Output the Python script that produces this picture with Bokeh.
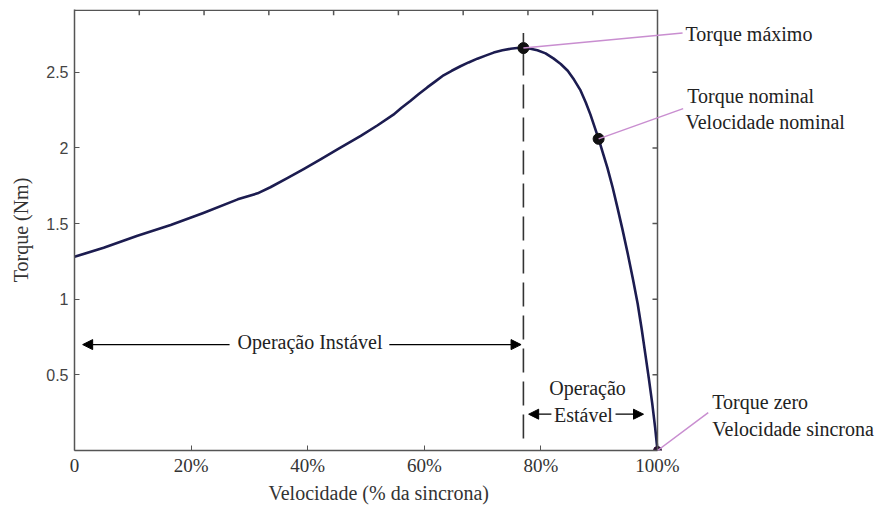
from bokeh.plotting import figure
from bokeh.models import Range1d, FixedTicker, Label, Arrow, NormalHead, Span, Title
from bokeh.embed import file_html
from bokeh.resources import INLINE

# ---- data ----
speed_pct = [0, 5.0, 10.8, 16.5, 22.1, 28.0, 31.4, 33.6, 36.5, 39.3, 42.2, 45.1,
             49.1, 52.0, 54.7, 56.1, 57.6, 59.0, 60.5, 61.9, 63.3, 64.7, 66.2,
             67.6, 69.1, 70.5, 71.9, 73.4, 74.8, 75.9, 77.0, 78.2, 79.4, 80.8,
             82.2, 83.4, 84.6, 85.7, 86.8, 87.7, 88.5, 89.9, 90.6, 91.4, 92.3,
             93.1, 94.0, 94.9, 95.8, 96.6, 97.3, 97.9, 98.5, 99.1, 99.6, 100.0]
torque = [1.28, 1.34, 1.42, 1.49, 1.57, 1.66, 1.70, 1.74, 1.80, 1.86, 1.925, 1.99,
          2.08, 2.15, 2.22, 2.265, 2.31, 2.355, 2.40, 2.44, 2.48, 2.51, 2.54,
          2.565, 2.59, 2.61, 2.63, 2.645, 2.655, 2.66, 2.66, 2.655, 2.645, 2.625,
          2.59, 2.555, 2.51, 2.45, 2.38, 2.30, 2.22, 2.06, 1.97, 1.87, 1.74,
          1.61, 1.46, 1.30, 1.13, 0.97, 0.80, 0.64, 0.48, 0.31, 0.15, 0.0]

max_speed, max_torque = 77.0, 2.66
nom_speed, nom_torque = 89.9, 2.06
zero_speed, zero_torque = 100.0, 0.0

x_ticks = [0, 20, 40, 60, 80, 100]
x_tick_labels = ["0", "20%", "40%", "60%", "80%", "100%"]
y_ticks = [0.5, 1, 1.5, 2, 2.5]
y_tick_labels = ["0.5", "1", "1.5", "2", "2.5"]
top_ticks = [100 * i / 9 for i in range(1, 9)]

SERIF = "Liberation Serif"
SANS = "Liberation Sans"
TXT = "#222222"
AX = "#555555"
PINK = "#c98ed0"
CURVE = "#1c1c50"

X_MAX = 100.0
Y_MAX = 2.91
PX_PER_UNIT_X = 583 / X_MAX           # width of the boxed area is 583 px
PX_PER_UNIT_Y = 441 / Y_MAX           # height of the boxed area is 441 px
X_END = X_MAX + 220 / PX_PER_UNIT_X   # room on the right for the annotations

p = figure(width=877, height=510, x_range=Range1d(0, X_END),
           y_range=Range1d(0, Y_MAX + 0.75 / PX_PER_UNIT_Y),
           output_backend="svg", toolbar_location=None,
           min_border_left=74, min_border_right=0, min_border_top=9, min_border_bottom=60,
           background_fill_color="white", border_fill_color="white")
p.outline_line_color = None
p.grid.visible = False

xa = p.xaxis[0]
xa.bounds = (0, X_MAX)
xa.ticker = FixedTicker(ticks=x_ticks)
xa.major_label_overrides = {t: l for t, l in zip(x_ticks, x_tick_labels)}
xa.major_tick_in = 5
xa.major_tick_out = 0
xa.minor_tick_in = 0
xa.minor_tick_out = 0
xa.axis_line_color = AX
xa.axis_line_width = 1.5
xa.major_tick_line_color = AX
xa.major_label_standoff = 4
xa.major_label_text_font = SERIF
xa.major_label_text_font_size = "19px"
xa.major_label_text_color = "#333333"

# x axis title, centred under the boxed area (not under the whole frame)
p.add_layout(Title(text="Velocidade (% da sincrona)", align="left", offset=194,
                   text_font=SERIF, text_font_size="20px", text_font_style="normal",
                   text_color="#333333", standoff=2), "below")

ya = p.yaxis[0]
ya.ticker = FixedTicker(ticks=y_ticks)
ya.major_label_overrides = {t: l for t, l in zip(y_ticks, y_tick_labels)}
ya.major_tick_in = 5
ya.major_tick_out = 0
ya.minor_tick_in = 0
ya.minor_tick_out = 0
ya.axis_line_color = AX
ya.axis_line_width = 1.5
ya.major_tick_line_color = AX
ya.major_label_standoff = 6
ya.major_label_text_font = SANS
ya.major_label_text_font_size = "16px"
ya.major_label_text_color = "#444444"
ya.axis_label = "Torque (Nm)"
ya.axis_label_text_font = SERIF
ya.axis_label_text_font_size = "20px"
ya.axis_label_text_font_style = "normal"
ya.axis_label_text_color = "#333333"
ya.axis_label_standoff = 11

# top border of the box, with inward ticks
p.segment(x0=[0], y0=[Y_MAX], x1=[X_MAX], y1=[Y_MAX], line_color=AX, line_width=1.5)
tick_len_y = 5 / PX_PER_UNIT_Y
p.segment(x0=top_ticks, y0=[Y_MAX] * len(top_ticks),
          x1=top_ticks, y1=[Y_MAX - tick_len_y] * len(top_ticks),
          line_color=AX, line_width=1.5)

# right border of the box, with inward ticks
p.add_layout(Span(location=X_MAX, dimension="height", line_color=AX, line_width=1.5))
tick_len_x = 5 / PX_PER_UNIT_X
p.segment(x0=[X_MAX] * len(y_ticks), y0=y_ticks,
          x1=[X_MAX - tick_len_x] * len(y_ticks), y1=y_ticks,
          line_color=AX, line_width=1.5)

# dashed line at maximum torque speed
p.line([max_speed, max_speed], [0.08, 2.76], line_color="#333333", line_width=1.6,
       line_dash="24 9")

# torque-speed curve
p.line(speed_pct, torque, line_color=CURVE, line_width=2.6, line_join="round")

# key points
p.scatter([max_speed, nom_speed], [max_torque, nom_torque], size=11,
          fill_color="#111111", line_color="#111111")
p.scatter([zero_speed], [zero_torque], size=8, fill_color="#2a1030", line_color="#2a1030")

# leader lines
for xs, ys, xe, ye in [(max_speed, max_torque, 104.3, 2.76),
                       (nom_speed, nom_torque, 104.4, 2.26),
                       (zero_speed, zero_torque, 108.7, 0.25)]:
    p.add_layout(Arrow(end=None, x_start=xs, y_start=ys, x_end=xe, y_end=ye,
                       line_color=PINK, line_width=1.5))

def lbl(x, y, text, align="left"):
    p.add_layout(Label(x=x, y=y, text=text, text_align=align, text_baseline="middle",
                       text_font=SERIF, text_font_size="20px", text_color=TXT))

lbl(104.8, 2.75, "Torque máximo")
lbl(105.1, 2.34, "Torque nominal")
lbl(104.8, 2.17, "Velocidade nominal")
lbl(109.4, 0.32, "Torque zero")
lbl(109.4, 0.145, "Velocidade sincrona")

# operating regions
def arrow(xs, xe, y):
    p.add_layout(Arrow(end=NormalHead(size=10, fill_color="black", line_color="black"),
                       x_start=xs, y_start=y, x_end=xe, y_end=y,
                       line_color="black", line_width=1.3))

arrow(26.6, 1.4, 0.70)
arrow(54.0, 76.6, 0.70)
lbl(40.4, 0.715, "Operação Instável", align="center")

lbl(88.0, 0.41, "Operação", align="center")
lbl(87.3, 0.235, "Estável", align="center")
arrow(81.8, 77.9, 0.24)
arrow(92.8, 97.6, 0.24)

open("out.html", "w").write(file_html(p, INLINE))
